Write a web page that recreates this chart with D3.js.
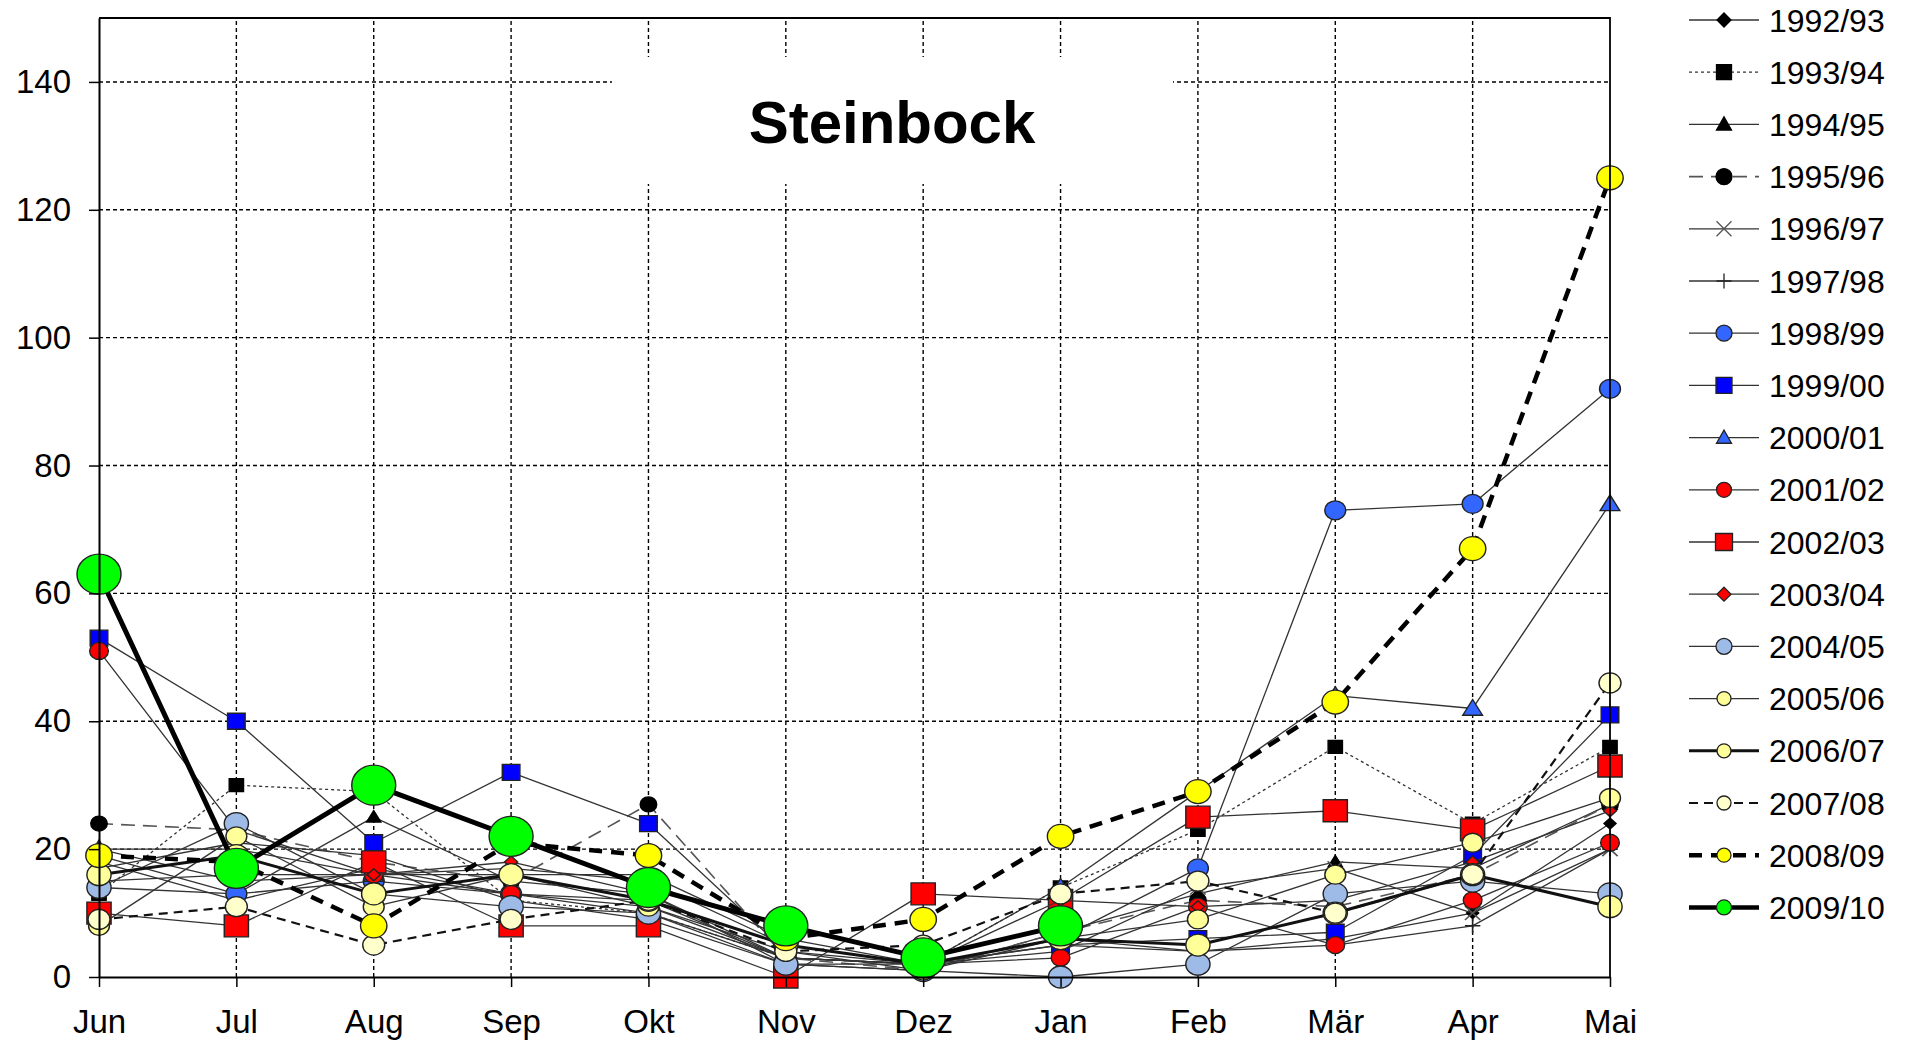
<!DOCTYPE html>
<html>
<head>
<meta charset="utf-8">
<script src="https://cdn.jsdelivr.net/npm/d3@7"></script>
<style>
  body { margin: 0; background: #fff; }
  svg { display: block; font-family: "Liberation Sans", Arial, sans-serif; }
</style>
</head>
<body>
<div id="chart"></div>
<script>
/* Steinbock - monthly counts per season, Jun..Mai */

const months = ["Jun", "Jul", "Aug", "Sep", "Okt", "Nov", "Dez", "Jan", "Feb", "Mär", "Apr", "Mai"];
const yTicks = [0, 20, 40, 60, 80, 100, 120, 140];
const chartTitle = "Steinbock";

const seasons = ["1992/93", "1993/94", "1994/95", "1995/96", "1996/97", "1997/98",
                 "1998/99", "1999/00", "2000/01", "2001/02", "2002/03", "2003/04",
                 "2004/05", "2005/06", "2006/07", "2007/08", "2008/09", "2009/10"];

// values (null = no data yet)
const s1992_93 = [18, 12, 17, 13, 10, 3, 2, 5, 4, 6, 10, 24];
const s1993_94 = [13, 30, 29, 12, 10, 3, 2, 14, 23, 36, 24, 36];
const s1994_95 = [19, 13, 25, 15, 13, 2, 1, 7, 13, 18, 17, 27];
const s1995_96 = [24, 23, 18, 15, 27, 3, 1, 7, 12, 11, 16, 27];
const s1996_97 = [17, 21, 19, 12, 9, 2, 2, 4, 14, 17, 10, 20];
const s1997_98 = [15, 16, 16, 16, 16, 6, 2, 6, 4, 5, 8, 20];
const s1998_99 = [14, 13, 15, 13, 12, 3, 2, 6, 17, 73, 74, 92];
const s1999_00 = [53, 40, 21, 32, 24, 4, 2, 5, 6, 7, 19, 41];
const s2000_01 = [20, 20, 16, 17, 15, 5, 2, 14, 29, 44, 42, 74];
const s2001_02 = [51, 23, 16, 13, 11, 3, 2, 3, 11, 5, 12, 21];
const s2002_03 = [10, 8, 18, 8, 8, 0, 13, 12, 25, 26, 23, 33];
const s2003_04 = [20, 15, 16, 18, 13, 3, 2, 12, 11, 12, 18, 26];
const s2004_05 = [14, 24, 13, 11, 10, 2, 1, 0, 2, 13, 15, 13];
const s2005_06 = [8, 22, 11, 16, 11, 4, 1, 6, 9, 16, 21, 28];
const s2006_07 = [16, 19, 13, 16, 12, 5, 2, 6, 5, 10, 16, 11];
const s2007_08 = [9, 11, 5, 9, 12, 4, 5, 13, 15, 10, 16, 46];
const s2008_09 = [19, 18, 8, 21, 19, 6, 9, 22, 29, 43, 67, 125];
const s2009_10 = [63, 17, 30, 22, 14, 8, 3, 8, null, null, null, null];

const seriesValues = [s1992_93, s1993_94, s1994_95, s1995_96, s1996_97, s1997_98,
                      s1998_99, s1999_00, s2000_01, s2001_02, s2002_03, s2003_04,
                      s2004_05, s2005_06, s2006_07, s2007_08, s2008_09, s2009_10];

// look of each season: marker shape / colour / size, line width / dash
const styles = {
    "1992/93": {shape: "diamond",  fill: "#000",    size: 11, lsize: 14, lw: 1.3, dash: null,    lc: "#333"},
    "1993/94": {shape: "square",   fill: "#000",    size: 13, lsize: 15, lw: 1.3, dash: "3,3",   lc: "#333"},
    "1994/95": {shape: "triangle", fill: "#000",    size: 13, lsize: 15, lw: 1.3, dash: null,    lc: "#333"},
    "1995/96": {shape: "circle",   fill: "#000",    size: 15, lsize: 16, lw: 1.6, dash: "14,8",  lc: "#555"},
    "1996/97": {shape: "x",        fill: "none",    size: 14, lsize: 15, lw: 1.3, dash: null,    lc: "#333"},
    "1997/98": {shape: "plus",     fill: "none",    size: 14, lsize: 15, lw: 1.3, dash: null,    lc: "#333"},
    "1998/99": {shape: "circle",   fill: "#3366ff", size: 19, lsize: 16, lw: 1.3, dash: null,    lc: "#333"},
    "1999/00": {shape: "square",   fill: "#0000ff", size: 16, lsize: 16, lw: 1.3, dash: null,    lc: "#333"},
    "2000/01": {shape: "triangle", fill: "#3366ff", size: 18, lsize: 15, lw: 1.3, dash: null,    lc: "#333"},
    "2001/02": {shape: "circle",   fill: "#ff0000", size: 17, lsize: 15, lw: 1.3, dash: null,    lc: "#333"},
    "2002/03": {shape: "square",   fill: "#ff0000", size: 22, lsize: 17, lw: 1.3, dash: null,    lc: "#333"},
    "2003/04": {shape: "diamond",  fill: "#ff0000", size: 12, lsize: 14, lw: 1.3, dash: null,    lc: "#333"},
    "2004/05": {shape: "circle",   fill: "#9dbbe6", size: 22, lsize: 16, lw: 1.3, dash: null,    lc: "#333"},
    "2005/06": {shape: "circle",   fill: "#ffff99", size: 19, lsize: 14, lw: 1.3, dash: null,    lc: "#333"},
    "2006/07": {shape: "circle",   fill: "#ffff99", size: 22, lsize: 14, lw: 3,   dash: null,    lc: "#111"},
    "2007/08": {shape: "circle",   fill: "#ffffcc", size: 20, lsize: 14, lw: 2.2, dash: "9,6",   lc: "#111"},
    "2008/09": {shape: "circle",   fill: "#ffff00", size: 24, lsize: 14, lw: 4.5, dash: "13,9",  lc: "#000"},
    "2009/10": {shape: "circle",   fill: "#00ff00", size: 40, lsize: 15, lw: 5,   dash: null,    lc: "#000"}
};

const width = 1906,
      height = 1043,
      margin = ({top: 18, right: 296, bottom: 66, left: 99});

let svg = d3.select("#chart")
    .append("svg")
    .attr("width", width)
    .attr("height", height);

let x = d3.scalePoint()
    .domain(months)
    .range([margin.left, width - margin.right]);

let y = d3.scaleLinear()
    .domain([0, 150])
    .range([height - margin.bottom, margin.top]);

// marker outline, centred on 0,0
function markerPath(shape, s) {
    const h = s / 2;
    if (shape === "circle")
        return `M${-h},0a${h},${h} 0 1,0 ${s},0a${h},${h} 0 1,0 ${-s},0Z`;
    if (shape === "square") return `M${-h},${-h}H${h}V${h}H${-h}Z`;
    if (shape === "diamond") return `M0,${-h}L${h},0L0,${h}L${-h},0Z`;
    if (shape === "triangle") return `M0,${-h}L${h},${h * 0.75}L${-h},${h * 0.75}Z`;
    if (shape === "x") return `M${-h},${-h}L${h},${h}M${h},${-h}L${-h},${h}`;
    return `M${-h},0H${h}M0,${-h}V${h}`; // plus
}

function markerStroke(st) {
    if (st.shape === "x") return "#555";
    if (st.fill === "#000") return "#000";
    return "#222";
}

// grid
svg.append("g")
    .selectAll("line")
    .data(yTicks.filter(d => d > 0))
    .join("line")
    .attr("x1", margin.left)
    .attr("x2", width - margin.right)
    .attr("y1", d => y(d))
    .attr("y2", d => y(d))
    .attr("stroke", "#000")
    .attr("stroke-width", 1.4)
    .attr("stroke-dasharray", "4,3");

svg.append("g")
    .selectAll("line")
    .data(months.slice(1, -1))
    .join("line")
    .attr("x1", d => x(d))
    .attr("x2", d => x(d))
    .attr("y1", y(0))
    .attr("y2", margin.top)
    .attr("stroke", "#000")
    .attr("stroke-width", 1.4)
    .attr("stroke-dasharray", "4,3");

// title on its white box
svg.append("rect")
    .attr("x", 612)
    .attr("y", 57)
    .attr("width", 561)
    .attr("height", 127)
    .attr("fill", "#fff");

svg.append("text")
    .attr("x", 892)
    .attr("y", 143)
    .attr("text-anchor", "middle")
    .attr("font-size", 60)
    .attr("font-weight", "bold")
    .attr("fill", "#000")
    .text(chartTitle);

// series: line, then markers, one season after the other
const line = d3.line()
    .defined(d => d != null)
    .x((d, i) => x(months[i]))
    .y(d => y(d));

seasons.forEach((s, k) => {
    const st = styles[s];
    const vals = seriesValues[k];
    let g = svg.append("g").attr("class", "series");

    g.append("path")
        .attr("d", line(vals))
        .attr("fill", "none")
        .attr("stroke", st.lc)
        .attr("stroke-width", st.lw)
        .attr("stroke-dasharray", st.dash)
        .attr("stroke-linejoin", "round");

    g.selectAll(".mk")
        .data(vals.map((v, i) => ({m: months[i], v: v})).filter(d => d.v != null))
        .join("path")
        .attr("class", "mk")
        .attr("transform", d => `translate(${x(d.m)},${y(d.v)}) scale(1.1,1)`)
        .attr("d", markerPath(st.shape, st.size))
        .attr("fill", st.fill)
        .attr("stroke", markerStroke(st))
        .attr("stroke-width", st.shape === "x" || st.shape === "plus" ? 1.5 : 1.3);
});

// axes and frame
const yAxis = g => g
    .attr("transform", `translate(${margin.left},0)`)
    .call(d3.axisLeft(y).tickValues(yTicks).tickSize(10).tickSizeOuter(0).tickPadding(18))
    .call(g => g.select(".domain").attr("stroke-width", 2))
    .call(g => g.selectAll(".tick line").attr("stroke-width", 1.5))
    .call(g => g.selectAll("text").attr("font-size", 33).attr("fill", "#000")
        .attr("font-family", "Liberation Sans, Arial, sans-serif"));

const xAxis = g => g
    .attr("transform", `translate(0,${height - margin.bottom})`)
    .call(d3.axisBottom(x).tickSize(10).tickSizeOuter(0).tickPadding(23))
    .call(g => g.select(".domain").attr("stroke-width", 2.2))
    .call(g => g.selectAll(".tick line").attr("stroke-width", 1.5))
    .call(g => g.selectAll("text").attr("font-size", 33).attr("fill", "#000")
        .attr("font-family", "Liberation Sans, Arial, sans-serif"));

svg.append("g").call(yAxis);
svg.append("g").call(xAxis);

svg.append("path")
    .attr("d", `M${margin.left},${margin.top}H${width - margin.right}V${height - margin.bottom}`)
    .attr("fill", "none")
    .attr("stroke", "#000")
    .attr("stroke-width", 1.8);

// legend
let legend = svg.append("g")
    .selectAll("g")
    .data(seasons)
    .join("g")
    .attr("transform", (d, i) => `translate(1689,${20 + i * 52.2})`);

legend.append("line")
    .attr("x1", 0)
    .attr("x2", 70)
    .attr("stroke", d => styles[d].lc)
    .attr("stroke-width", d => Math.min(styles[d].lw, 4.5))
    .attr("stroke-dasharray", d => styles[d].dash);

legend.append("path")
    .attr("transform", "translate(35,0)")
    .attr("d", d => markerPath(styles[d].shape, styles[d].lsize))
    .attr("fill", d => styles[d].fill)
    .attr("stroke", d => markerStroke(styles[d]))
    .attr("stroke-width", 1.3);

legend.append("text")
    .attr("x", 80)
    .attr("y", 11.5)
    .attr("font-size", 32)
    .attr("fill", "#000")
    .text(d => d);
</script>
</body>
</html>
